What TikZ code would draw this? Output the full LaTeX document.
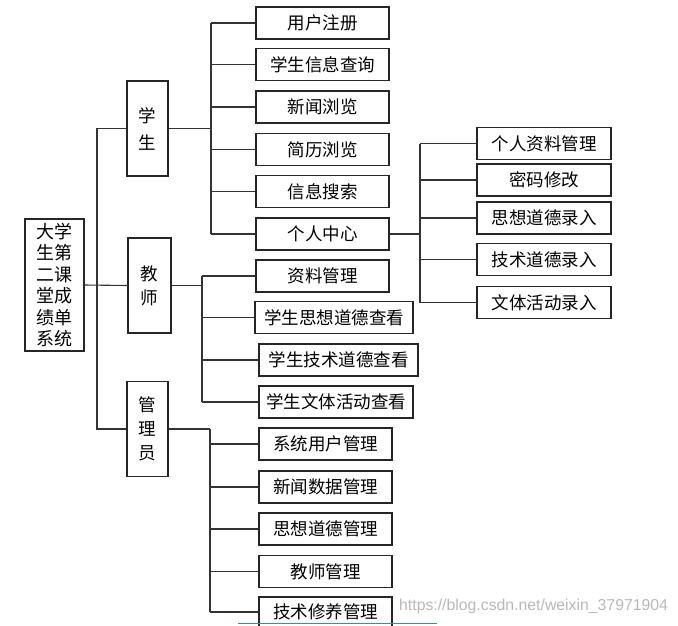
\documentclass[tikz,border=0pt]{standalone}
\usepackage{fontspec}
\newfontfamily\cjk{Noto Sans CJK SC}
\setsansfont{Liberation Sans}
\definecolor{linkblue}{RGB}{40,140,230}

\begin{document}
\begin{tikzpicture}[x=1pt,y=-1pt,
  box/.style={draw=black!85,line width=1.1pt,fill=white,inner sep=0pt,
    minimum height=32pt,font=\cjk\fontsize{17.5}{20}\selectfont},
  vbox/.style={box,align=center},
  link/.style={draw=black!80,line width=1.1pt}]
  \useasboundingbox (0,0) rectangle (678,625);
  % root and the three roles
  \node[vbox,minimum width=59pt,minimum height=132pt,font=\cjk\fontsize{18}{21.5}\selectfont] (root) at (54.5,285) {大学\\生第\\二课\\堂成\\绩单\\系统};
  \node[vbox,minimum width=41pt,minimum height=95pt,font=\cjk\fontsize{17.5}{27}\selectfont] (stu) at (147.5,128.5) {学\\生};
  \node[vbox,minimum width=43pt,minimum height=95pt,font=\cjk\fontsize{17.5}{24}\selectfont] (tea) at (149.5,285.5) {教\\师};
  \node[vbox,minimum width=41pt,minimum height=95pt,font=\cjk\fontsize{17.5}{24}\selectfont] (adm) at (147.5,429) {管\\理\\员};
  % student functions
  \node[box,minimum width=133pt] (s1) at (322.5,23) {用户注册};
  \node[box,minimum width=133pt] (s2) at (322.5,64.5) {学生信息查询};
  \node[box,minimum width=133pt] (s3) at (322.5,107) {新闻浏览};
  \node[box,minimum width=133pt] (s4) at (322.5,149.5) {简历浏览};
  \node[box,minimum width=133pt] (s5) at (322.5,191.5) {信息搜索};
  \node[box,minimum width=133pt] (s6) at (322.5,234) {个人中心};
  % personal centre
  \node[box,minimum width=134pt] (p1) at (544,143.5) {个人资料管理};
  \node[box,minimum width=134pt] (p2) at (544,180) {密码修改};
  \node[box,minimum width=134pt] (p3) at (544,218) {思想道德录入};
  \node[box,minimum width=134pt] (p4) at (544,259.5) {技术道德录入};
  \node[box,minimum width=134pt] (p5) at (544,302.5) {文体活动录入};
  % teacher functions
  \node[box,minimum width=133pt] (t1) at (322.5,276) {资料管理};
  \node[box,minimum width=158pt] (t2) at (334,317.5) {学生思想道德查看};
  \node[box,minimum width=159pt] (t3) at (338.5,360) {学生技术道德查看};
  \node[box,minimum width=154pt] (t4) at (336,402) {学生文体活动查看};
  % admin functions
  \node[box,minimum width=133pt] (a1) at (325.5,444) {系统用户管理};
  \node[box,minimum width=133pt] (a2) at (325.5,487) {新闻数据管理};
  \node[box,minimum width=133pt] (a3) at (325.5,529) {思想道德管理};
  \node[box,minimum width=133pt] (a4) at (325.5,571.5) {教师管理};
  \node[box,minimum width=133pt,minimum height=30pt] (a5) at (325.5,612) {技术修养管理};
  % trunk lines
  \coordinate (m) at (97,0);
  \coordinate (ms) at (211,0);
  \coordinate (mp) at (420,0);
  \coordinate (mt) at (202,0);
  \coordinate (ma) at (210,0);
  \draw[link] (root.east) -- (tea.west);
  \draw[link] (stu.west) -| (m |- adm.west) -- (adm.west);
  \draw[link] (stu.east) -- (stu.east -| ms);
  \draw[link] (ms |- s1.west) -- (ms |- s6.west);
  \foreach \n in {s1,s2,s3,s4,s5,s6}
    \draw[link] (ms |- \n.west) -- (\n.west);
  \draw[link] (s6.east) -- (s6.east -| mp);
  \draw[link] (mp |- p1.west) -- (mp |- p5.west);
  \foreach \n in {p1,p2,p3,p4,p5}
    \draw[link] (mp |- \n.west) -- (\n.west);
  \draw[link] (tea.east) -- (tea.east -| mt);
  \draw[link] (mt |- t1.west) -- (mt |- t4.west);
  \foreach \n in {t1,t2,t3,t4}
    \draw[link] (mt |- \n.west) -- (\n.west);
  \draw[link] (adm.east) -- (adm.east -| ma);
  \draw[link] (ma |- adm.east) -- (ma |- a5.west);
  \foreach \n in {a1,a2,a3,a4,a5}
    \draw[link] (ma |- \n.west) -- (\n.west);
  % watermark
  \node[anchor=west,inner sep=0pt,text=black!28,font=\sffamily\fontsize{15.8}{17}\selectfont] (mark) at (399,606) {https://blog.csdn.net/weixin\_37971904};
  \coordinate (bl) at (238,623.5);
  \coordinate (br) at (437,623.5);
  \draw[line width=1.2pt,linkblue] (bl) -- (br);
\end{tikzpicture}
\end{document}
